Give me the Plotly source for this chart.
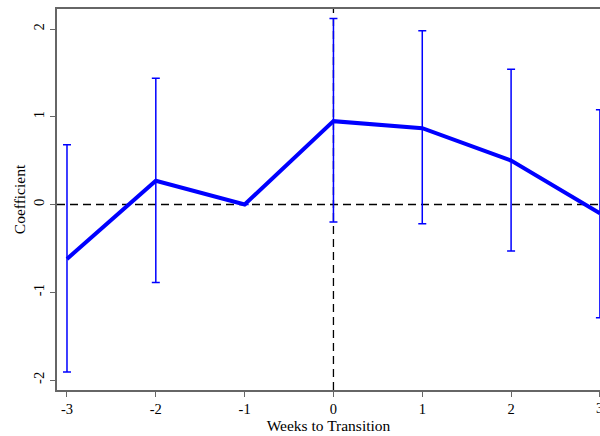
import plotly.graph_objects as go

weeks = [-3, -2, -1, 0, 1, 2, 3]
coef = [-0.62, 0.27, 0.0, 0.95, 0.87, 0.50, -0.10]
ci_hi = [0.68, 1.44, None, 2.12, 1.98, 1.54, 1.08]
ci_lo = [-1.91, -0.89, None, -0.20, -0.22, -0.53, -1.29]
tick_labels = [str(w) for w in weeks]

err_plus = [None if h is None else h - c for h, c in zip(ci_hi, coef)]
err_minus = [None if l is None else c - l for l, c in zip(ci_lo, coef)]

fig = go.Figure()
fig.add_trace(go.Scatter(
    x=weeks, y=coef, mode="lines",
    line=dict(color="#0000FF", width=4),
    error_y=dict(type="data", symmetric=False,
                 array=[e if e is not None else 0 for e in err_plus],
                 arrayminus=[e if e is not None else 0 for e in err_minus],
                 color="#0000FF", thickness=1.5, width=4),
    showlegend=False,
))

fig.add_hline(y=0, line=dict(color="black", width=1.3, dash="8px,5px"), layer="below")
fig.add_vline(x=0, line=dict(color="black", width=1.3, dash="8px,5px"), layer="below")

font = "Liberation Serif, Times New Roman, serif"
fig.update_layout(
    width=600, height=436,
    margin=dict(l=57, r=0, t=9, b=46),
    plot_bgcolor="white", paper_bgcolor="white",
    font=dict(family=font, size=14.5, color="black"),
    xaxis=dict(range=[-3.1125, 3.001], tickvals=weeks, ticktext=tick_labels[:-1] + [""],
               showline=True, linecolor="#666666", linewidth=2, mirror=True,
               ticks="outside", ticklen=5, tickcolor="#666666", tickwidth=1,
               showgrid=False, zeroline=False, automargin=False,
               title=dict(text="Weeks to Transition", font=dict(size=15.5), standoff=4)),
    yaxis=dict(range=[-2.114, 2.228], tickvals=[-2, -1, 0, 1, 2],
               ticktext=["-2", "-1", "0", "1", "2"], tickangle=-90,
               showline=True, linecolor="#666666", linewidth=2,
               ticks="outside", ticklen=5, tickcolor="#666666", tickwidth=1,
               showgrid=False, zeroline=False, automargin=False,
               title=dict(text="Coefficient", font=dict(size=15.5), standoff=2)),
)
# last tick label (cut by the right edge in the reference) drawn as an annotation
fig.add_annotation(x=weeks[-1], y=0, xref="x", yref="paper", text=tick_labels[-1],
                   showarrow=False, yanchor="top", yshift=-8, font=dict(size=14.5))

fig.write_html("out.html", config={"displayModeBar": False},
               post_script="document.body.style.margin='0px';document.body.style.overflow='hidden';")
